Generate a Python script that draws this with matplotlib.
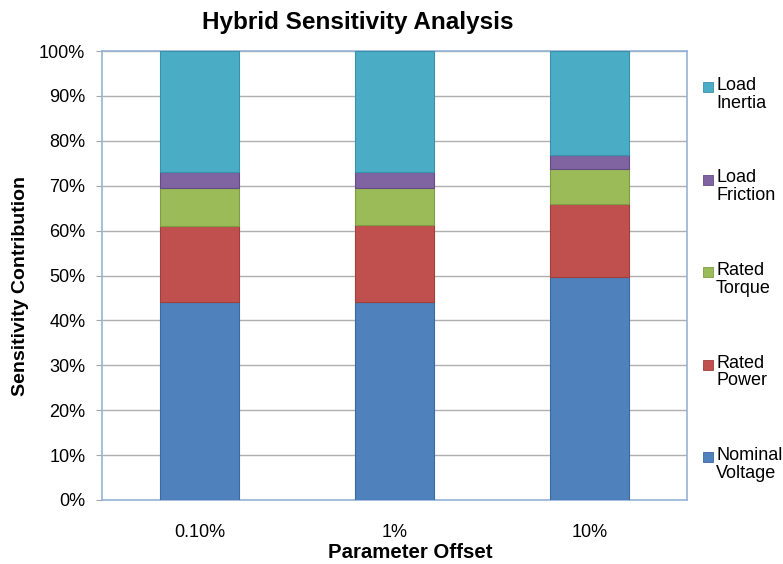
import matplotlib
matplotlib.use("Agg")
import matplotlib.pyplot as plt
from matplotlib.patches import Rectangle
import numpy as np

plt.rcParams['font.family'] = ['Liberation Sans', 'DejaVu Sans']

categories = ["0.10%", "1%", "10%"]
series_names = ["Nominal Voltage", "Rated Power", "Rated Torque", "Load Friction", "Load Inertia"]
legend_labels = ["Nominal\nVoltage", "Rated\nPower", "Rated\nTorque", "Load\nFriction", "Load\nInertia"]
nominal_voltage = [44.2, 44.2, 49.7]
rated_power = [16.9, 17.0, 16.2]
rated_torque = [8.3, 8.3, 7.8]
load_friction = [3.6, 3.5, 3.1]
load_inertia = [27.0, 27.0, 23.2]
y_ticks = [0, 10, 20, 30, 40, 50, 60, 70, 80, 90, 100]
y_tick_labels = ["0%", "10%", "20%", "30%", "40%", "50%", "60%", "70%", "80%", "90%", "100%"]

colors = ["#4F81BD", "#C0504D", "#9BBB59", "#8064A2", "#4BACC6"]
edges = ["#3A6AA3", "#A23E3B", "#7F9C45", "#634C85", "#3892AA"]

fig = plt.figure(figsize=(7.83, 5.64), dpi=100)
ax = fig.add_axes([102/783, 1 - 500/564, 585/783, 449/564])

data = [nominal_voltage, rated_power, rated_torque, load_friction, load_inertia]
x = np.arange(len(categories))
bottom = np.zeros(len(categories))
for vals, c, ec in zip(data, colors, edges):
    ax.bar(x, vals, width=0.405, bottom=bottom, color=c, edgecolor=ec, linewidth=0.8, zorder=3)
    bottom += np.array(vals)

ax.set_xlim(-0.5, 2.5)
ax.set_ylim(0, 100)
ax.set_yticks(y_ticks)
ax.set_yticklabels(y_tick_labels, fontsize=13)
ax.set_xticks(x)
ax.set_xticklabels(categories, fontsize=13)
ax.tick_params(axis='x', length=0, pad=17)
ax.tick_params(axis='y', length=4, color='#A6A6A6', pad=8)
ax.yaxis.grid(True, color='#AFAFAF', linewidth=1.0, zorder=0)
for s in ax.spines.values():
    s.set_color('#95B3D7')
    s.set_linewidth(1.2)

fig.text(358/783, 1 - 22/564, "Hybrid Sensitivity Analysis", fontsize=17.5, fontweight='bold',
         ha='center', va='center')
fig.text(410/783, 1 - 553/564, "Parameter Offset", fontsize=14.7, fontweight='bold',
         ha='center', va='center')
fig.text(21/783, 1 - 286/564, "Sensitivity Contribution", fontsize=14, fontweight='bold',
         ha='center', va='center', rotation=90)

# legend (top: Load Inertia ... bottom: Nominal Voltage)
for i, idx in enumerate(range(len(series_names) - 1, -1, -1)):
    yc = 87 + i * 92.5
    fig.patches.append(Rectangle((703/783, 1 - (yc + 5) / 564), 10/783, 10/564,
                                 transform=fig.transFigure, facecolor=colors[idx],
                                 edgecolor=edges[idx], linewidth=0.6))
    fig.text(716/783, 1 - (yc - 10) / 564, legend_labels[idx], fontsize=13,
             ha='left', va='top', linespacing=1.05)

fig.savefig("out.png", dpi=100)
